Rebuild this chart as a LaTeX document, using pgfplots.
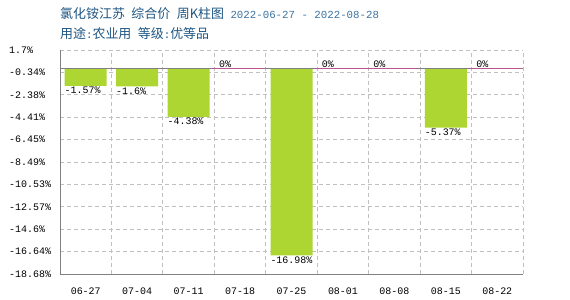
\documentclass[border=0pt]{standalone}
\usepackage{pgfplots}
\pgfplotsset{compat=1.18}
\usepackage{fontspec}
\setmonofont{Liberation Mono}
\newfontfamily\cjk{Noto Sans CJK SC}
\definecolor{bargreen}{RGB}{173,214,51}
\definecolor{zeropink}{RGB}{185,85,145}
\definecolor{titleblue}{RGB}{30,85,130}
\definecolor{dateblue}{RGB}{60,115,160}
\definecolor{gridgray}{RGB}{192,192,192}
\definecolor{axisgray}{RGB}{128,128,128}
\begin{document}
\begin{tikzpicture}
\useasboundingbox (0bp,0bp) rectangle (570bp,300bp);
\node[anchor=base west, inner sep=0, text=titleblue] at (60bp,281bp) {\cjk\fontsize{13}{15}\selectfont 氯化铵江苏\hspace{6.5bp}综合价\hspace{6.5bp}周K柱图\hspace{6.5bp}{\color{dateblue}\ttfamily\fontsize{10.8}{13}\selectfont 2022-06-27 - 2022-08-28}};
\node[anchor=base west, inner sep=0, text=titleblue] at (60bp,261.5bp) {\cjk\fontsize{13}{15}\selectfont 用途{\ttfamily\fontsize{10.8}{13}\selectfont :}农业用\hspace{6.5bp}等级{\ttfamily\fontsize{10.8}{13}\selectfont :}优等品};
\begin{axis}[
  at={(60bp,26bp)}, anchor=south west,
  width=463bp, height=224bp, scale only axis,
  xmin=-0.5, xmax=8.5, ymin=-18.68, ymax=1.7,
  axis x line*=bottom, axis y line*=left,
  axis line style={axisgray, line width=1bp, -},
  xtick={0,...,8},
  xticklabels={06-27,07-04,07-11,07-18,07-25,08-01,08-08,08-15,08-22},
  major tick length=0, minor tick length=0,
  minor xtick={0.5,1.5,...,8.5}, xminorgrids=true,
  ytick={-18.68,-16.64,-14.6,-12.57,-10.53,-8.49,-6.45,-4.41,-2.38,-0.34,1.7},
  yticklabels={-18.68\%,-16.64\%,-14.6\%,-12.57\%,-10.53\%,-8.49\%,-6.45\%,-4.41\%,-2.38\%,-0.34\%,1.7\%},
  ymajorgrids=true,
  grid style={gridgray, dash pattern=on 4bp off 3bp, line width=0.8bp},
  minor grid style={gridgray, dash pattern=on 4bp off 3bp, line width=0.8bp},
  tick label style={font=\ttfamily\fontsize{10}{12}\selectfont},
  yticklabel style={anchor=west, inner sep=0, xshift=-51bp},
  xticklabel style={anchor=north, inner sep=0, yshift=-14bp},
  clip=false,
]
\addplot[ybar, bar width=42bp, bar shift=0pt, fill=bargreen, draw=none,
  point meta=explicit symbolic,
  nodes near coords={\pgfplotspointmeta\%},
  nodes near coords align=center,
  every node near coord/.append style={anchor=north, text width=42bp, align=left, inner xsep=0, inner ysep=1bp, font=\ttfamily\fontsize{10}{12}\selectfont, text=black}]
  coordinates {(0,-1.57)[-1.57] (1,-1.6)[-1.6] (2,-4.38)[-4.38] (4,-16.98)[-16.98] (7,-5.37)[-5.37]};
\addplot[ybar, bar width=42bp, bar shift=0pt, fill=none, draw=none,
  point meta=explicit symbolic,
  nodes near coords={\pgfplotspointmeta\%},
  nodes near coords align=center,
  every node near coord/.append style={anchor=south, text width=42bp, align=left, inner xsep=0, inner ysep=1bp, font=\ttfamily\fontsize{10}{12}\selectfont, text=black}]
  coordinates {(3,0)[0] (5,0)[0] (6,0)[0] (8,0)[0]};
\addplot[axisgray, line width=1bp, mark=none] coordinates {(-0.5,0) (8.5,0)};
\addplot[zeropink, line width=1bp, mark=none, unbounded coords=jump] coordinates {(2.45,0) (3.46,0) (3.46,nan) (4.45,0) (6.46,0) (6.46,nan) (7.45,0) (8.46,0)};
\end{axis}
\end{tikzpicture}
\end{document}
